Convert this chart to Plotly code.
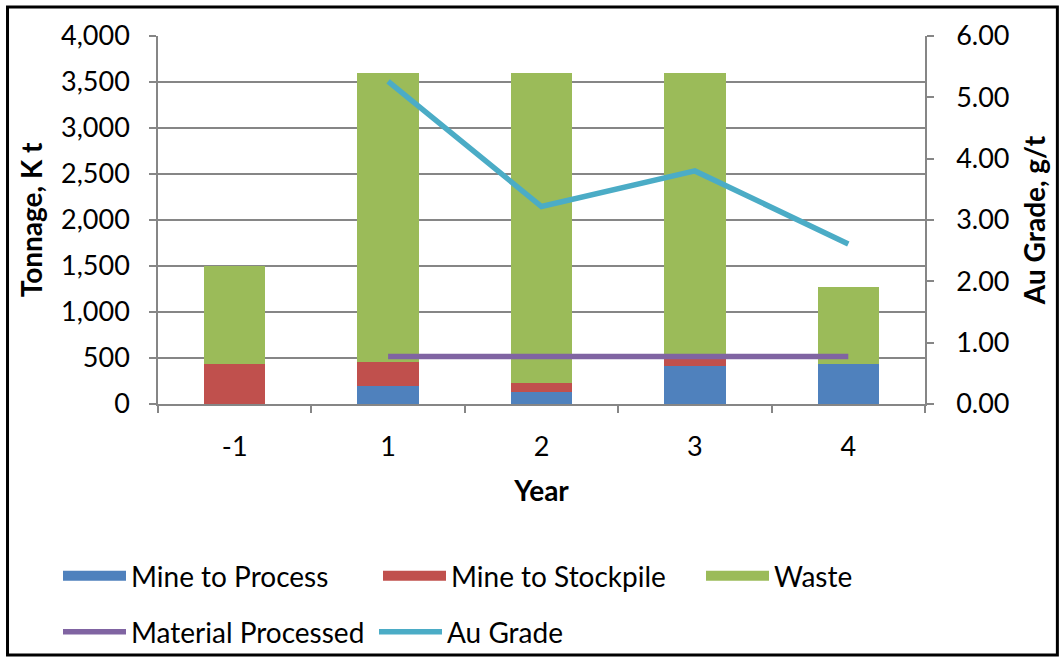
import plotly.graph_objects as go

years = ["-1", "1", "2", "3", "4"]
mine_to_process = [0, 195, 130, 410, 430]
mine_to_stockpile = [430, 260, 95, 80, 0]
waste = [1070, 3145, 3375, 3110, 840]
material_processed = [None, 515, 515, 515, 515]
au_grade = [None, 5.26, 3.22, 3.80, 2.61]

W, H = 1063, 658
L, R, T, B = 157.5, 924.6, 36, 404

FONT = "Lato"
FS = 27
TFS = 28
LFS = 28
C_PROC, C_STOCK, C_WASTE = "#4F81BD", "#C0504D", "#9BBB59"
C_MAT, C_AU = "#8064A2", "#4BACC6"

fig = go.Figure()
for name, vals, col in [("Mine to Process", mine_to_process, C_PROC),
                        ("Mine to Stockpile", mine_to_stockpile, C_STOCK),
                        ("Waste", waste, C_WASTE)]:
    fig.add_trace(go.Bar(x=years, y=vals, name=name, legendgroup=name, showlegend=False,
                         marker=dict(color=col, line=dict(width=0))))
# legend entries for the bars (wide rectangular swatches as in the reference)
for name, col, lg in [("Mine to Process", C_PROC, "legend"),
                      ("Mine to Stockpile", C_STOCK, "legend3"),
                      ("Waste", C_WASTE, "legend4")]:
    fig.add_trace(go.Scatter(x=[None], y=[None], name=name, legendgroup=name, mode="lines",
                             line=dict(color=col, width=17), legend=lg, hoverinfo="skip"))
fig.add_trace(go.Scatter(x=years, y=material_processed, name="Material Processed", mode="lines",
                         line=dict(color=C_MAT, width=5.5), legend="legend2"))
fig.add_trace(go.Scatter(x=years, y=au_grade, name="Au Grade", mode="lines", yaxis="y2",
                         line=dict(color=C_AU, width=5.5), legend="legend5"))

def px2x(px):
    return (px - L) / (R - L)

def py2y(py):
    return (B - py) / (B - T)

def leg(xpx, ypx):
    return dict(orientation="h", xref="container", yref="container",
                x=xpx / W, y=1 - ypx / H, xanchor="left", yanchor="top",
                itemwidth=63, font=dict(size=LFS),
                bgcolor="rgba(0,0,0,0)", traceorder="normal")

axis_common = dict(showline=True, linecolor="#868686", linewidth=1.5, ticks="outside",
                   ticklen=7, tickcolor="#868686", tickwidth=1.5, automargin=False,
                   zeroline=False, tickfont=dict(size=FS))

fig.update_layout(
    width=W, height=H,
    margin=dict(l=L, r=W - R, t=T, b=H - B, autoexpand=False),
    barmode="stack", bargap=0.6,
    plot_bgcolor="white", paper_bgcolor="white",
    font=dict(family=FONT, size=FS, color="black"),
    xaxis=dict(type="category", tickson="boundaries", showgrid=False,
               ticklabelstandoff=18,
               title=dict(text="<b>Year</b>", standoff=20, font=dict(size=TFS)),
               **axis_common),
    yaxis=dict(range=[0, 4000], dtick=500, tickformat=",",
               gridcolor="#868686", gridwidth=1.5, ticklabelstandoff=14,
               title=dict(text="<b>Tonnage, K t</b>", font=dict(size=TFS), standoff=10),
               **axis_common),
    yaxis2=dict(range=[0, 6], dtick=1, tickformat=".2f", overlaying="y", side="right",
                showgrid=False, ticklabelstandoff=17,
                title=dict(text="<b>Au Grade, g/t</b>", font=dict(size=TFS), standoff=17),
                **axis_common),
    legend=leg(58, 551),
    legend3=leg(378, 551),
    legend4=leg(701, 551),
    legend2=leg(58, 607),
    legend5=leg(374, 607),
    showlegend=True,
    shapes=[dict(type="rect", xref="paper", yref="paper",
                 x0=px2x(7), x1=px2x(1057), y0=py2y(655), y1=py2y(7),
                 line=dict(color="black", width=3), fillcolor="rgba(0,0,0,0)", layer="above")],
)

fig.write_html("out.html", config={"displayModeBar": False},
               post_script="document.body.style.margin='0';")
